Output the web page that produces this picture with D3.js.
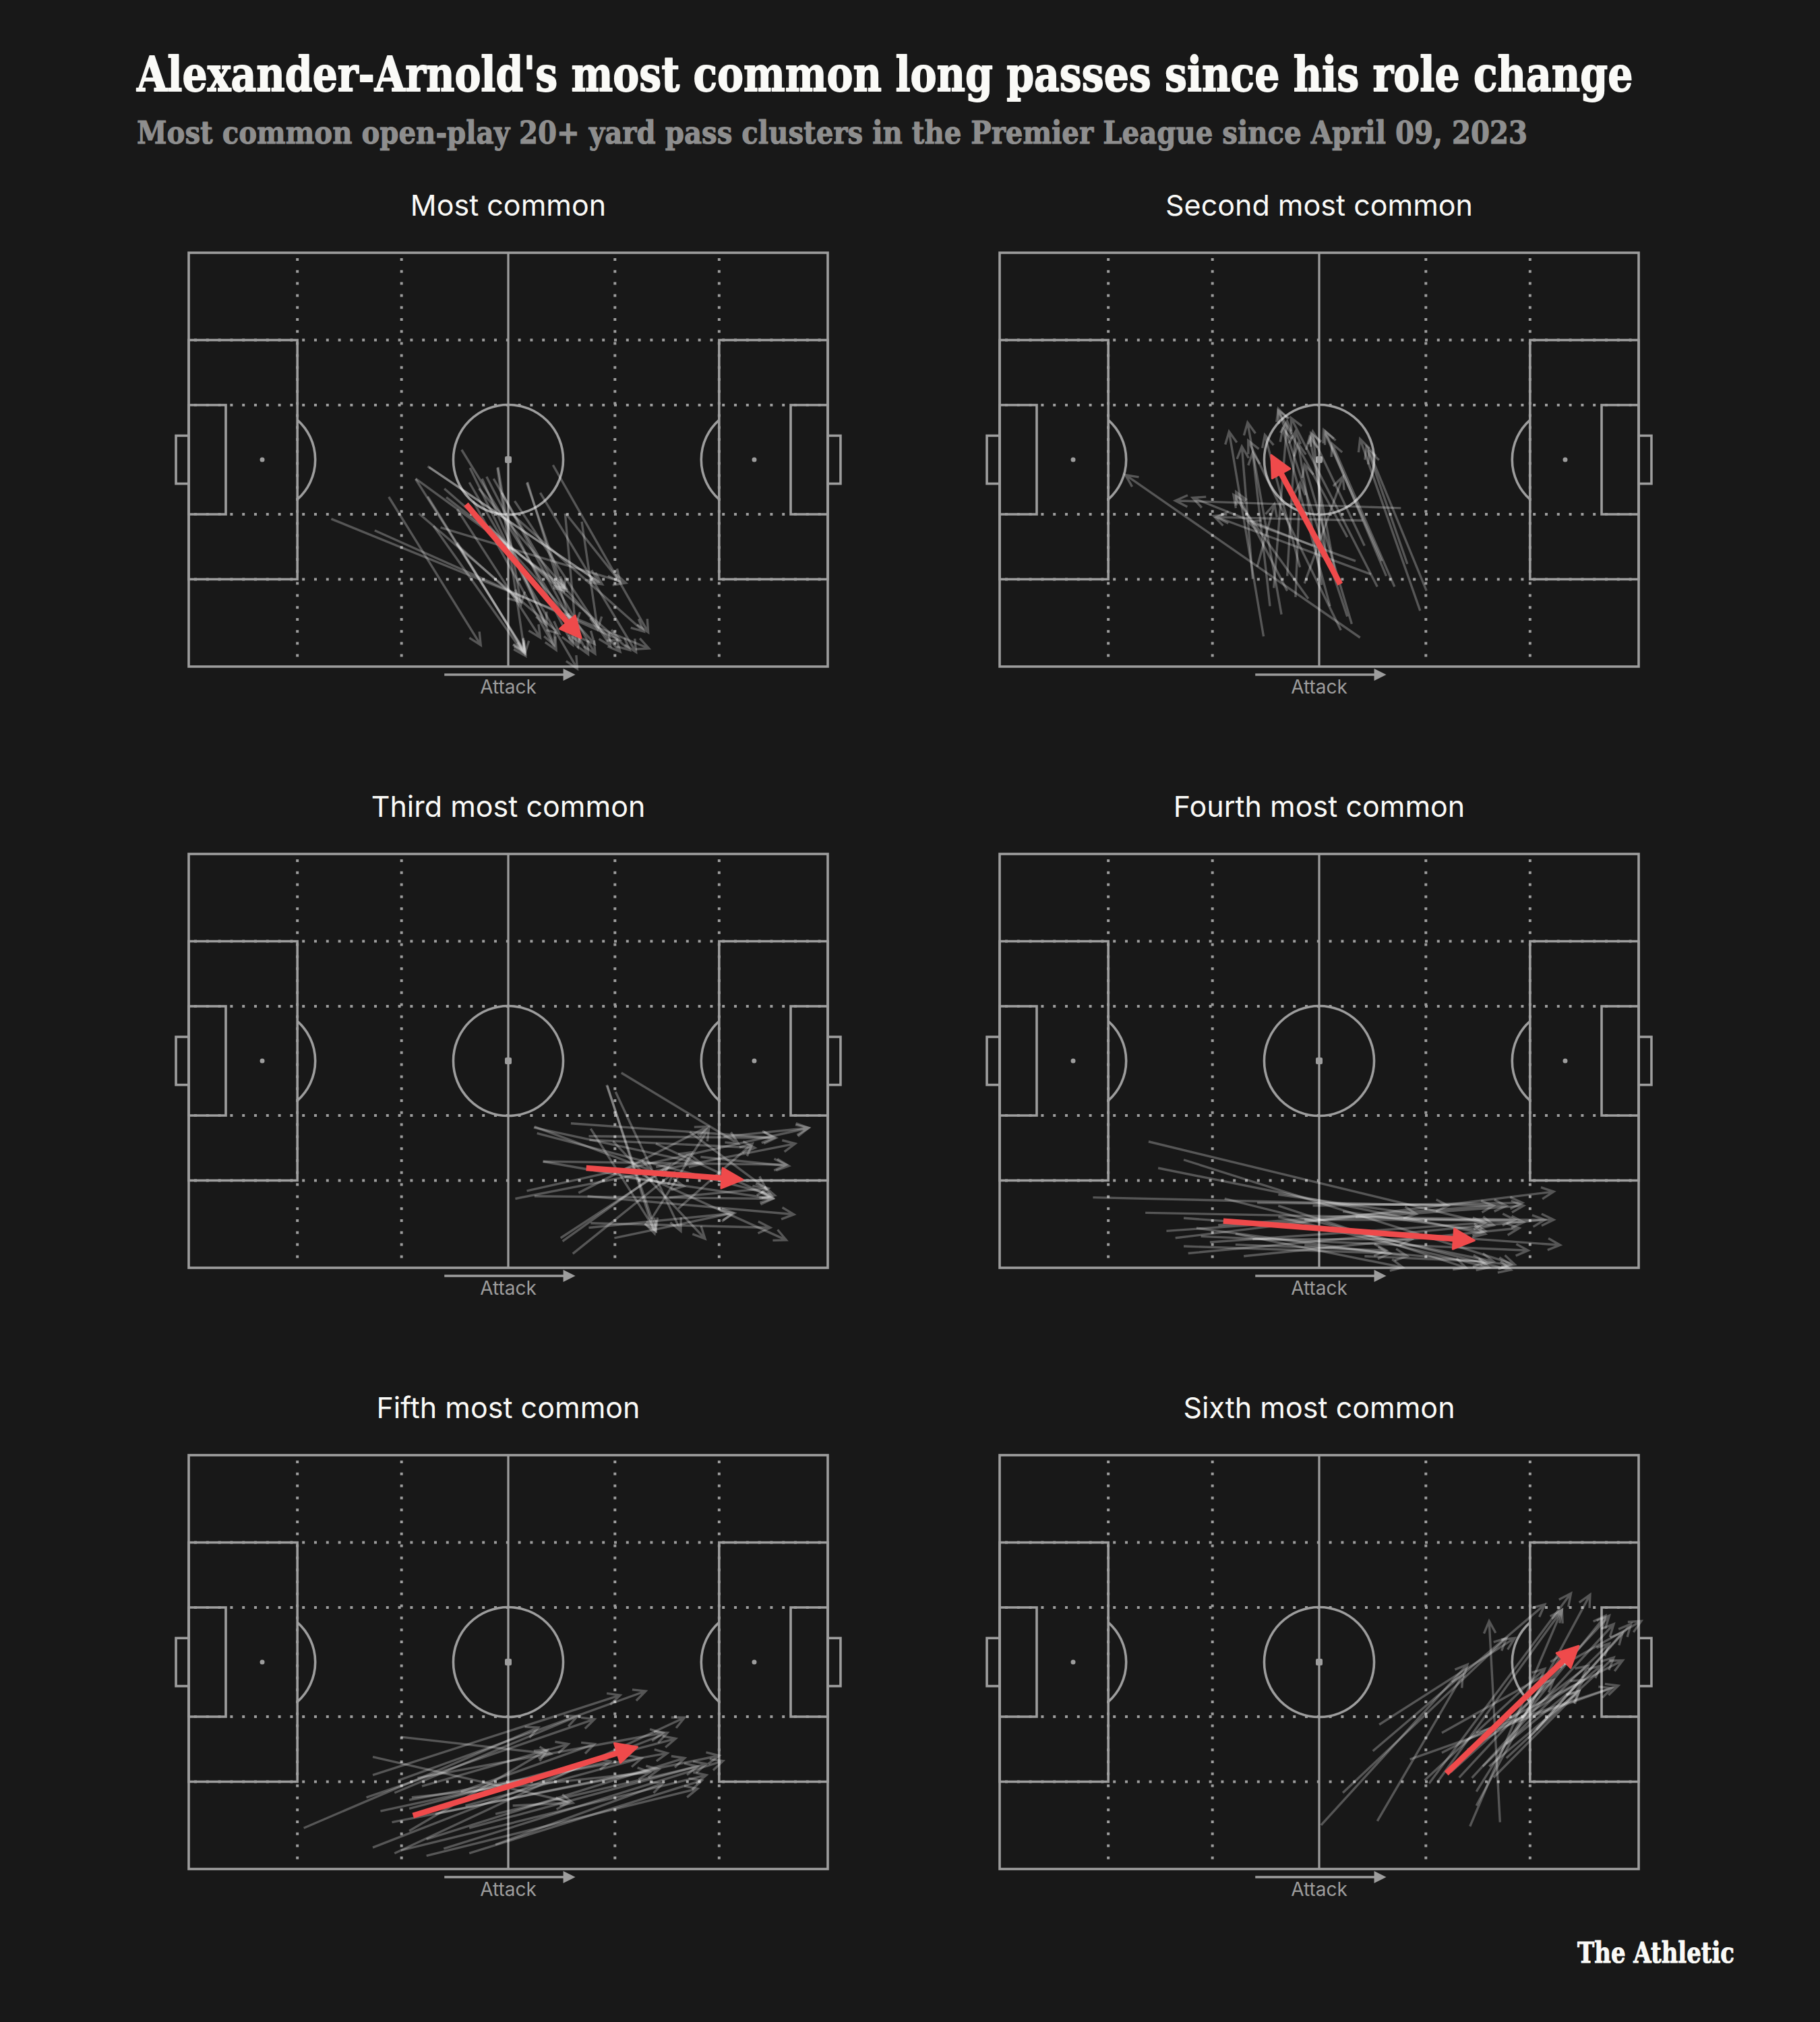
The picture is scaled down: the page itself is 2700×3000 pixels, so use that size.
<!DOCTYPE html>
<html>
<head>
<meta charset="utf-8">
<script src="https://cdn.jsdelivr.net/npm/d3@7/dist/d3.min.js"></script>
<style>
  body { margin: 0; background: #181818; }
</style>
</head>
<body>
<div id="chart"></div>
<script>
/*** data: pass clusters, pitch coordinates 0-100 (x = left to right, y = top to bottom) ***/

var panelTitles = ['Most common', 'Second most common', 'Third most common',
  'Fourth most common', 'Fifth most common', 'Sixth most common'];

// [startX, startY, endX, endY]
var passesMost = [
  [42.7,47.6,61.2,94.1],[37.4,51.6,64.7,80.1],[35.5,54.6,59.1,81.1],[31.3,59.0,45.7,94.8],
  [22.3,64.3,72.0,95.6],[29.1,67.1,67.5,93.6],[38.3,66.0,52.7,97.4],[39.4,66.4,68.4,79.8],
  [40.3,59.1,59.1,81.7],[37.4,58.9,52.7,96.9],[45.4,57.0,67.5,96.4],[45.9,54.6,57.2,94.8],
  [47.7,54.6,63.6,96.9],[48.4,51.8,52.0,85.0],[53.0,55.4,60.9,95.3],[57.0,51.3,71.9,91.7],
  [58.9,63.0,60.5,89.9],[59.1,63.2,67.5,79.5],[41.9,70.4,51.9,84.4],[48.3,52.0,52.6,96.9],
  [46.6,54.1,60.1,94.8],[35.5,54.7,52.6,96.3],[37.6,51.8,64.1,79.5],[43.9,55.5,60.8,100.5],
  [50.6,63.2,71.2,91.5],[42.0,70.0,52.5,96.5],[44.5,60.0,57.5,96.0],[49.0,58.0,62.5,97.0],
  [42.0,62.0,55.0,93.0],[51.0,60.0,66.0,95.0],[47.0,66.0,63.5,94.5],[36.0,63.0,58.0,92.0],
  [44.0,52.0,56.0,90.0],[55.0,58.0,70.0,96.5],[40.0,57.0,69.0,96.0],[61.5,65.0,64.0,91.0],
  [52.9,55.6,58.7,81.8]
];
var passesSecond = [
  [56.4,93.0,19.7,53.7],[41.3,92.7,35.9,43.2],[44.1,87.4,38.8,41.0],[53.4,91.2,38.9,45.4],
  [54.4,87.9,43.6,37.7],[65.8,86.5,56.4,45.0],[66.8,81.7,57.8,47.9],[62.8,61.7,27.5,59.9],
  [56.8,64.7,33.9,63.9],[58.1,77.7,33.5,63.6],[59.1,80.7,45.6,39.9],[61.8,80.7,52.0,46.1],
  [59.8,74.5,50.7,42.8],[50.4,80.3,46.7,46.1],[48.3,83.6,36.6,58.5],[45.0,78.1,46.3,43.2],
  [47.7,79.9,53.7,54.1],[55.7,74.5,38.9,65.0],[39.6,78.8,37.9,46.8],[42.9,81.0,45.0,40.7],
  [51.7,85.4,44.3,42.5],[57.1,70.8,48.7,43.6],[49.0,70.8,30.2,59.2],[40.3,75.9,43.0,60.7],
  [63.8,75.2,57.4,46.8],[45.0,81.7,37.0,57.8],[46.3,83.2,47.0,55.6],[54.4,68.7,43.6,38.1],
  [51.0,72.3,49.0,43.2],[60.5,78.1,51.0,43.2],[55.1,89.7,47.7,51.2],[42.3,85.4,39.6,48.3],
  [47.0,76.0,41.5,44.0],[52.5,77.0,48.5,44.5]
];
var passesThird = [
  [67.7,52.9,86.0,70.0],[65.4,55.8,73.1,91.1],[66.8,57.5,77.0,91.1],[54.1,65.9,72.4,76.5],
  [54.5,67.5,91.7,82.5],[59.8,65.1,91.6,68.6],[62.6,68.2,91.9,68.6],[62.7,69.1,88.6,71.0],
  [62.9,66.4,73.1,91.1],[55.5,74.3,93.5,75.1],[52.9,81.4,97.0,66.2],[51.1,83.3,94.9,70.0],
  [54.1,82.7,91.4,83.3],[62.4,82.7,94.7,87.1],[61.0,81.9,81.2,65.9],[58.2,92.8,78.7,72.1],
  [58.5,93.6,75.2,75.1],[60.1,96.6,75.9,77.0],[62.9,89.2,91.0,90.3],[62.6,90.3,85.4,86.8],
  [66.6,92.8,85.1,86.8],[66.4,69.4,80.8,93.0],[68.2,78.1,91.4,83.3],[71.0,77.6,93.5,93.3],
  [73.1,70.0,91.4,83.0],[75.2,83.0,90.7,80.8],[72.4,88.2,81.4,66.2],[76.6,85.7,88.2,70.0],
  [80.1,73.2,93.9,75.4],[83.7,68.3,97.0,66.2],[78.4,67.2,90.3,80.8],[65.5,56.0,72.9,91.7],
  [54.0,66.1,80.3,74.9],[55.4,74.3,77.5,80.3]
];
var passesFourth = [
  [23.3,69.5,77.3,89.7],[28.8,73.9,80.6,99.2],[24.8,75.9,76.0,91.8],[14.6,83.0,70.2,85.0],
  [22.8,86.7,80.6,88.4],[26.1,91.1,82.0,85.0],[27.5,92.8,86.7,81.6],[29.5,96.5,85.3,88.4],
  [28.8,88.0,87.7,94.5],[32.9,93.8,76.0,89.1],[38.2,97.2,81.3,90.4],[35.2,83.3,80.0,100.5],
  [43.6,82.3,65.2,87.0],[40.3,84.3,79.3,85.0],[30.8,90.4,63.8,97.2],[36.9,94.4,60.5,95.8],
  [43.6,87.7,76.6,99.9],[49.0,85.0,81.8,84.3],[51.7,90.4,77.3,98.5],[47.7,94.5,80.0,99.2],
  [57.1,97.2,76.0,98.5],[53.7,86.4,76.0,91.1],[39.6,93.1,64.5,93.1],[36.9,91.8,63.1,99.9],
  [34.2,89.7,77.3,85.0],[31.5,92.4,82.7,95.8],[47.7,88.4,86.7,88.4],[28.8,94.8,61.1,96.5],
  [43.6,85.0,73.0,100.0],[55.7,87.7,82.0,89.0]
];
var passesFifth = [
  [33.2,68.1,56.7,72.2],[28.8,72.9,60.1,84.0],[18.0,90.1,54.7,65.8],[28.8,77.3,67.5,58.0],
  [32.8,78.6,71.5,57.0],[27.8,82.7,63.5,63.8],[32.2,81.6,60.8,63.1],[28.8,94.8,74.9,67.1],
  [32.2,96.2,77.6,63.4],[33.2,95.5,81.0,77.3],[39.9,95.1,83.6,73.9],[43.9,96.2,80.3,78.6],
  [34.5,83.3,74.9,72.0],[35.8,78.0,74.2,67.1],[31.8,88.7,73.6,75.9],[37.2,92.8,77.6,73.2],
  [34.5,90.8,56.1,71.2],[43.9,90.1,81.0,74.6],[42.6,81.3,63.5,69.8],[36.5,80.0,59.4,69.8],
  [48.0,86.7,79.6,75.2],[50.7,84.7,59.4,84.0],[34.9,82.7,72.2,76.6],[48.0,94.1,74.2,79.3],
  [38.6,86.7,83.0,72.6],[34.5,85.4,76.2,68.5],[43.3,84.7,70.9,73.2],[37.2,96.8,79.6,80.6],
  [30.0,86.0,66.0,74.0]
];
var passesSixth = [
  [50.3,89.4,73.2,50.6],[59.1,88.4,72.5,53.0],[53.7,81.6,79.3,44.2],[58.4,71.5,85.3,36.1],
  [59.4,65.1,80.6,44.2],[78.3,88.7,76.6,40.1],[73.6,89.7,88.0,37.4],[74.6,84.7,92.4,33.7],
  [67.2,79.3,89.4,33.4],[64.2,73.5,95.8,56.3],[69.2,71.9,97.5,49.6],[69.2,67.1,100.4,40.1],
  [73.9,78.0,96.1,40.8],[68.5,79.0,88.0,37.4],[75.6,75.2,95.4,45.5],[73.2,71.2,91.4,54.3],
  [77.3,77.9,90.7,57.0],[79.3,69.8,94.1,50.9],[74.6,67.1,96.8,55.7],[82.7,68.5,98.8,40.8],
  [82.0,63.1,94.8,38.8],[80.6,64.4,92.1,50.9],[70.6,76.6,86.7,54.3],[74.6,81.3,88.0,48.2],
  [79.3,73.2,96.1,48.9],[76.6,75.2,90.7,57.0],[84.0,66.4,97.5,42.8],[66.5,78.6,85.3,51.6],
  [71.9,77.9,95.4,38.8]
];

// average pass of each cluster, drawn in red
var meanPasses = [
  [43.4,60.8,61.4,93.1],
  [53.3,80.1,42.5,48.9],
  [62.2,75.9,86.7,78.7],
  [35.0,88.7,74.3,93.4],
  [35.1,87.1,70.2,70.5],
  [69.9,76.9,90.6,46.1]
];

var clusters = [passesMost, passesSecond, passesThird, passesFourth, passesFifth, passesSixth];

/*** layout ***/
var width = 2700, height = 3000;
var pitchW = 948, pitchH = 614;
var colX = [280, 1483];
var rowY = [375, 1267, 2159];

var lineColor = '#9d9d9d';
var lineW = 3.6;
var red = '#ef4a4b';

var x = d3.scaleLinear().domain([0, 100]).range([0, pitchW]);
var y = d3.scaleLinear().domain([0, 100]).range([0, pitchH]);

var svg = d3.select('#chart').append('svg')
  .attr('width', width)
  .attr('height', height)
  .style('background', '#181818');

// slab-serif heading squeezed horizontally to the reference width
function slabText(tx, ty, targetW, size, color, txt) {
  var g = svg.append('g');
  var t = g.append('text')
    .attr('x', 0).attr('y', 0)
    .style('font-family', 'DejaVu Serif')
    .style('font-weight', 'bold')
    .style('font-size', size + 'px')
    .style('fill', color)
    .style('stroke', color)
    .style('stroke-width', size / 40)
    .style('stroke-linejoin', 'round')
    .text(txt);
  var w = t.node().getComputedTextLength();
  g.attr('transform', 'translate(' + tx + ',' + ty + ') scale(' + (targetW / w) + ',1)');
}

slabText(203, 135, 2220, 72, '#fafaf7', "Alexander-Arnold's most common long passes since his role change");
slabText(203, 213, 2064, 46, '#8e8e8e', 'Most common open-play 20+ yard pass clusters in the Premier League since April 09, 2023');
slabText(2340, 2912, 233, 43, '#fafaf7', 'The Athletic');

// draw the pitch markings inside a panel group
function drawPitch(g) {
  // dotted grid (zones) first, solid lines go over them
  var dotsX = [17, 33.3, 66.7, 83];
  var dotsY = [21.1, 36.8, 63.2, 78.9];
  g.selectAll('.vdot').data(dotsX).enter().append('line')
    .attr('x1', function (d) { return x(d); }).attr('x2', function (d) { return x(d); })
    .attr('y1', y(0) + 8).attr('y2', y(100))
    .attr('stroke', lineColor).attr('stroke-width', 4)
    .attr('stroke-dasharray', '4 13.8');
  g.selectAll('.hdot').data(dotsY).enter().append('line')
    .attr('y1', function (d) { return y(d); }).attr('y2', function (d) { return y(d); })
    .attr('x1', x(0) + 8).attr('x2', x(100))
    .attr('stroke', lineColor).attr('stroke-width', 4)
    .attr('stroke-dasharray', '4 13.8');

  function rect(x0, y0, x1, y1) {
    g.append('rect')
      .attr('x', x(x0)).attr('y', y(y0))
      .attr('width', x(x1) - x(x0)).attr('height', y(y1) - y(y0))
      .attr('fill', 'none').attr('stroke', lineColor).attr('stroke-width', lineW);
  }
  rect(0, 0, 100, 100);
  rect(0, 21.1, 17, 78.9);
  rect(83, 21.1, 100, 78.9);
  rect(0, 36.8, 5.8, 63.2);
  rect(94.2, 36.8, 100, 63.2);
  rect(-2, 44.2, 0, 55.8);
  rect(100, 44.2, 102, 55.8);

  g.append('line')
    .attr('x1', x(50)).attr('x2', x(50)).attr('y1', y(0)).attr('y2', y(100))
    .attr('stroke', lineColor).attr('stroke-width', lineW - 0.4);

  var r = x(8.6) - x(0);
  g.append('circle')
    .attr('cx', x(50)).attr('cy', y(50)).attr('r', r)
    .attr('fill', 'none').attr('stroke', lineColor).attr('stroke-width', lineW);
  g.append('rect')
    .attr('x', x(50) - 5).attr('y', y(50) - 5).attr('width', 10).attr('height', 10)
    .attr('rx', 2).attr('fill', lineColor);

  // penalty spots and arcs
  var arcR = x(8.3) - x(0);
  [11.5, 88.5].forEach(function (s, i) {
    g.append('circle').attr('cx', x(s)).attr('cy', y(50)).attr('r', 3.5).attr('fill', lineColor);
    var edge = i === 0 ? 17 : 83;
    var dx = Math.abs(x(edge) - x(s));
    var dy = Math.sqrt(arcR * arcR - dx * dx);
    var sweep = i === 0 ? 1 : 0;
    g.append('path')
      .attr('d', 'M' + x(edge) + ',' + (y(50) - dy) +
        ' A' + arcR + ',' + arcR + ' 0 0,' + sweep + ' ' + x(edge) + ',' + (y(50) + dy))
      .attr('fill', 'none').attr('stroke', lineColor).attr('stroke-width', lineW);
  });

  // attack direction
  var ay = y(100) + 12;
  g.append('line')
    .attr('x1', x(40)).attr('x2', x(60.5) - 14).attr('y1', ay).attr('y2', ay)
    .attr('stroke', lineColor).attr('stroke-width', 3.6);
  g.append('path')
    .attr('d', 'M' + x(60.5) + ',' + ay + ' L' + (x(60.5) - 18) + ',' + (ay - 9) +
      ' L' + (x(60.5) - 18) + ',' + (ay + 9) + 'Z')
    .attr('fill', lineColor);
  g.append('text')
    .attr('x', x(50)).attr('y', y(100) + 40)
    .style('text-anchor', 'middle')
    .style('font-family', 'Inter, Roboto, sans-serif')
    .style('font-size', '28px')
    .style('fill', lineColor)
    .text('Attack');
}

// grey passes with open chevrons, then the red average pass
function drawPasses(g, passes, mean) {
  var arm = 20, spread = 0.45;
  g.selectAll('.pass').data(passes).enter().append('path')
    .attr('class', 'pass')
    .attr('d', function (d) {
      var x1 = x(d[0]), y1 = y(d[1]), x2 = x(d[2]), y2 = y(d[3]);
      var a = Math.atan2(y2 - y1, x2 - x1) + Math.PI;
      return 'M' + x1 + ',' + y1 + ' L' + x2 + ',' + y2 +
        ' M' + (x2 + arm * Math.cos(a + spread)) + ',' + (y2 + arm * Math.sin(a + spread)) +
        ' L' + x2 + ',' + y2 +
        ' L' + (x2 + arm * Math.cos(a - spread)) + ',' + (y2 + arm * Math.sin(a - spread));
    })
    .attr('fill', 'none')
    .attr('stroke', '#ffffff')
    .attr('stroke-opacity', 0.27)
    .attr('stroke-width', 3.4);

  var x1 = x(mean[0]), y1 = y(mean[1]), x2 = x(mean[2]), y2 = y(mean[3]);
  var a = Math.atan2(y2 - y1, x2 - x1);
  var headL = 31, headW = 15;
  var bx = x2 - headL * Math.cos(a), by = y2 - headL * Math.sin(a);
  g.append('line')
    .attr('x1', x1).attr('y1', y1).attr('x2', bx + 2 * Math.cos(a)).attr('y2', by + 2 * Math.sin(a))
    .attr('stroke', red).attr('stroke-width', 8.5);
  g.append('path')
    .attr('d', 'M' + x2 + ',' + y2 +
      ' L' + (bx + headW * Math.sin(a)) + ',' + (by - headW * Math.cos(a)) +
      ' L' + (bx - headW * Math.sin(a)) + ',' + (by + headW * Math.cos(a)) + 'Z')
    .attr('fill', red).attr('stroke', red).attr('stroke-width', 3).attr('stroke-linejoin', 'round');
}

clusters.forEach(function (passes, i) {
  var g = svg.append('g')
    .attr('transform', 'translate(' + colX[i % 2] + ',' + rowY[Math.floor(i / 2)] + ')');
  g.append('text')
    .attr('x', x(50)).attr('y', -55)
    .style('text-anchor', 'middle')
    .style('font-family', 'Inter, Roboto, sans-serif')
    .style('font-size', '43px')
    .style('fill', '#fafaf7')
    .text(panelTitles[i]);
  drawPitch(g);
  drawPasses(g, passes, meanPasses[i]);
});
</script>
</body>
</html>
